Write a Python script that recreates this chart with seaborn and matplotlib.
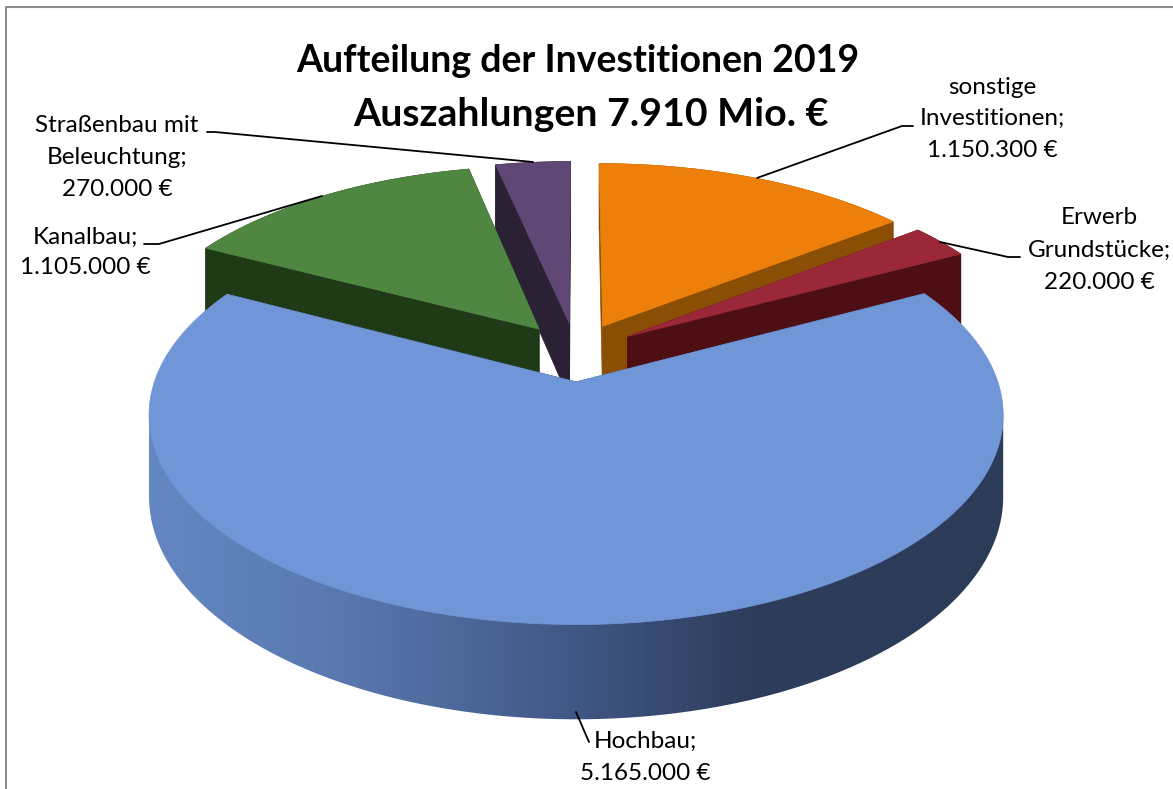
import numpy as np
import matplotlib
matplotlib.use('Agg')
import matplotlib.pyplot as plt
from matplotlib.patches import Polygon
import seaborn as sns

# clockwise from 12 o'clock
categories = ['sonstige Investitionen', 'Erwerb Grundstücke', 'Hochbau', 'Kanalbau', 'Straßenbau mit Beleuchtung']
values = [1150300, 220000, 5165000, 1105000, 270000]
title_lines = ['Aufteilung der Investitionen 2019', 'Auszahlungen 7.910 Mio. €']

top_colors = ['#EE7F0A', '#9B2838', '#7096D8', '#4F8641', '#5F4776']
side_colors = ['#8A4F05', '#4E0F14', '#2E3D5C', '#1F3A17', '#2A2135']
blue_stops = ['#6487C3', '#5877AD', '#435B8B', '#2E3D5C', '#2C3B58']

# projection of the tilted disc to pixels
cx, cy = 576, 352
a, b, k = 412, 195, 0.154
depth = 78
explode = 0.15


def project(u, s, z=0.0):
    w = 1 - k * s
    return cx + a * u / w, cy + b * s / w + z * depth / w


def slice_pts(t1, t2, off, n=100, z=0.0):
    t = np.radians(np.linspace(t1, t2, n))
    return project(np.cos(t) + off[0], -np.sin(t) + off[1], z)


sns.set_theme(style='white')
plt.rcParams['font.family'] = ['Lato', 'DejaVu Sans']

fig, ax = plt.subplots(figsize=(11.73, 7.89), dpi=100)
fig.subplots_adjust(0, 0, 1, 1)

# chart frame, only left and top are inside the picture
ax.plot([6, 6, 1173], [789, 7, 7], color='#8C8C8C', lw=1.5)

vals = np.array(values, dtype=float)
spans = vals / vals.sum() * 360
starts = 90 - np.concatenate([[0], np.cumsum(spans)[:-1]])
ends = starts - spans

# back slices first, big front slice last
for order, i in enumerate([4, 3, 0, 1, 2]):
    mid = np.radians((starts[i] + ends[i]) / 2)
    off = (explode * np.cos(mid), -explode * np.sin(mid))
    fc = side_colors[i]
    zo = 1 + order
    # cut walls
    for t in [starts[i], ends[i]]:
        r = np.radians(t)
        us = np.array([off[0], off[0] + np.cos(r)])
        ss = np.array([off[1], off[1] - np.sin(r)])
        x0, y0 = project(us, ss)
        x1, y1 = project(us, ss, 1.0)
        ax.fill(np.r_[x0, x1[::-1]], np.r_[y0, y1[::-1]], color=fc, lw=0.5, zorder=zo)
    # rim
    n = 260 if i == 2 else 60
    x0, y0 = slice_pts(starts[i], ends[i], off, n)
    x1, y1 = slice_pts(starts[i], ends[i], off, n, 1.0)
    if i == 2:
        ramp = sns.blend_palette(blue_stops, n_colors=400)
        pos = np.linspace(0, 1, 400)
        pos = np.where(pos < 0.7, pos / 0.7 * 0.75, 0.75 + (pos - 0.7) / 0.3 * 0.25)
        strip = np.array([ramp[int(p * 399)] for p in pos])[None, :, :]
        im = ax.imshow(strip, extent=[x0.min(), x0.max(), 789, 0], aspect='auto', zorder=zo)
        # outline of what shows below the top face
        ir, il = np.argmax(x0), np.argmin(x0)
        sil = np.c_[np.r_[x1[ir:il + 1], x0[il], x0[ir]], np.r_[y1[ir:il + 1], y0[il], y0[ir]]]
        im.set_clip_path(Polygon(sil, transform=ax.transData))
    else:
        ax.fill(np.r_[x0, x1[::-1]], np.r_[y0, y1[::-1]], color=fc, lw=0.5, zorder=zo)
    # top face
    ax_, ay_ = project(off[0], off[1])
    ax.fill(np.r_[ax_, x0], np.r_[ay_, y0], color=top_colors[i], lw=0.5, zorder=zo + 0.5)

for line, x, y, size in zip(title_lines, [578, 591], [61, 114], [27, 28.3]):
    ax.text(x, y, line, ha='center', va='center', fontsize=size, fontweight='bold', color='black', zorder=20)

label_lines = [
    (992, [87, 118, 150], ['sonstige', 'Investitionen;', '1.150.300 €']),
    (1099, [217, 250, 282], ['Erwerb', 'Grundstücke;', '220.000 €']),
    (645, [741, 773], ['Hochbau;', '5.165.000 €']),
    (85, [237, 268], ['Kanalbau;', '1.105.000 €']),
    (117, [125, 157, 189], ['Straßenbau mit', 'Beleuchtung;', '270.000 €']),
]
for x, ys, lines in label_lines:
    for y, line in zip(ys, lines):
        ax.text(x, y, line, ha='center', va='center', fontsize=17.5, color='black', zorder=20)

leaders = [
    ([757, 902, 913], [178, 126, 126]),
    ([940, 1008, 1020], [242, 257, 257]),
    ([576, 589], [712, 742]),
    ([144, 159, 322], [244, 244, 196]),
    ([207, 215, 533], [132, 132, 162]),
]
for xs, ys in leaders:
    ax.plot(xs, ys, color='black', lw=1.3, zorder=15)

ax.set_xlim(0, 1173)
ax.set_ylim(789, 0)
ax.axis('off')

fig.savefig('out.png', dpi=100)
